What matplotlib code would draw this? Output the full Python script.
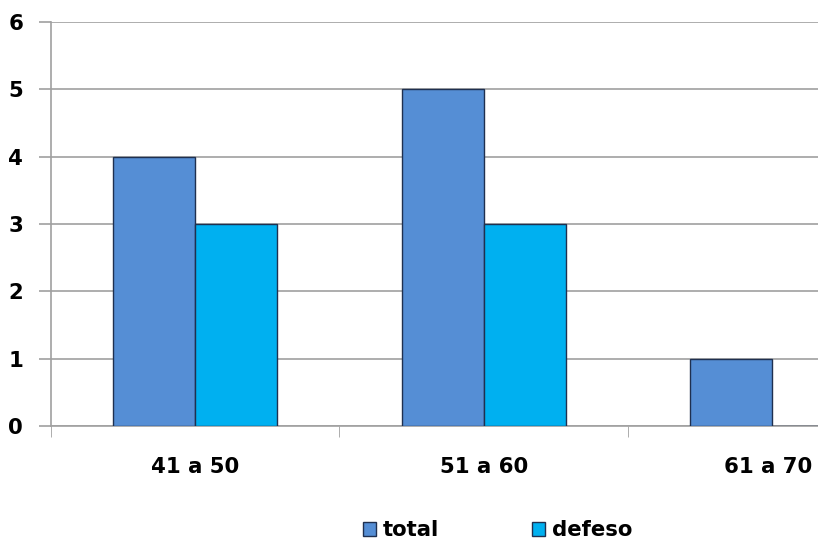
import numpy as np
import matplotlib.pyplot as plt
import matplotlib.transforms as mtransforms

# Data
categories = ['41 a 50', '51 a 60', '61 a 70']
total = [4, 5, 1]
defeso = [3, 3, 0]

plt.rcParams['font.family'] = ['DejaVu Sans']
plt.rcParams['font.weight'] = 'bold'

fig = plt.figure(figsize=(8.18, 5.41), dpi=100)
ax = fig.add_axes([0.0623, 0.2126, 0.9377, 0.7467])

x = np.arange(len(categories))
w = 0.284
ax.bar(x - w / 2, total, w, color='#558ED5', edgecolor='#1F3050', linewidth=1, label='total', zorder=3)
ax.bar(x + w / 2, defeso, w, color='#00B0F0', edgecolor='#1F3050', linewidth=1, label='defeso', zorder=3)

ax.set_xlim(-0.5, 2.159)
ax.set_ylim(0, 6)
ax.set_yticks(range(7))
ax.grid(axis='y', color='#A0A0A0', linewidth=1.2, zorder=0)

ax.set_xticks(x)
ax.set_xticklabels(categories, fontsize=15.3)
ax.set_xticks([-0.5, 0.5, 1.5], minor=True)
ax.tick_params(axis='x', which='major', length=0, pad=22)
ax.tick_params(axis='x', which='minor', length=8, color='#A0A0A0', direction='out')
ax.tick_params(axis='y', length=9, width=1.2, color='#A0A0A0', labelsize=15.3, pad=11)

# last label nudged left so it stays inside the figure
last = ax.get_xticklabels()[-1]
last.set_transform(last.get_transform() + mtransforms.ScaledTranslation(-0.04, 0, fig.dpi_scale_trans))

for s in ['top', 'right']:
    ax.spines[s].set_visible(False)
for s in ['left', 'bottom']:
    ax.spines[s].set_color('#A0A0A0')
    ax.spines[s].set_linewidth(1.2)

fig.legend(loc='center', bbox_to_anchor=(0.608, 0.02), ncol=2, frameon=False,
           fontsize=15.3, handlelength=0.65, handleheight=0.65, handletextpad=0.3,
           columnspacing=4.35)

plt.savefig('out.png', dpi=100)
